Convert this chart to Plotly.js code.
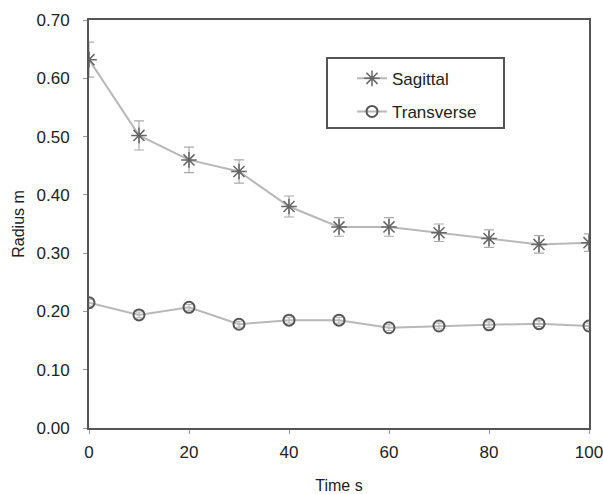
<!DOCTYPE html>
<html><head><meta charset="utf-8">
<script src="https://cdn.plot.ly/plotly-3.0.1.min.js"></script>
<style>html,body{margin:0;padding:0;background:#fff}#c{width:603px;height:494px}</style>
</head><body><div id="c"></div>
<script>
var time = [0,10,20,30,40,50,60,70,80,90,100];
var sagittal = [0.632,0.502,0.460,0.440,0.380,0.345,0.345,0.335,0.325,0.315,0.318];
var sagittalErr = [0.030,0.025,0.022,0.020,0.018,0.016,0.016,0.015,0.015,0.015,0.015];
var transverse = [0.215,0.194,0.207,0.178,0.185,0.185,0.172,0.175,0.177,0.179,0.175];
var transverseErr = [0.006,0.005,0.005,0.005,0.005,0.005,0.005,0.005,0.005,0.005,0.005];
var yTicks = [0,0.1,0.2,0.3,0.4,0.5,0.6,0.7];
var yTickText = ["0.00","0.10","0.20","0.30","0.40","0.50","0.60","0.70"];
var xTicks = [0,20,40,60,80,100];

var traces = [
 {x:time,y:sagittal,name:'Sagittal',mode:'lines+markers',legendgroup:'a',
  line:{color:'#b8b8b8',width:2},
  marker:{symbol:'asterisk-open',size:13,color:'#666',line:{color:'#666',width:1.5}},
  error_y:{type:'data',array:sagittalErr,visible:true,color:'#aaa',thickness:1.2,width:5}},
 {x:time,y:transverse,name:'Transverse',mode:'lines+markers',legendgroup:'b',
  line:{color:'#b8b8b8',width:2},
  marker:{symbol:'circle-open',size:11,color:'#555',line:{color:'#555',width:2}},
  error_y:{type:'data',array:transverseErr,visible:true,color:'#aaa',thickness:1,width:3}}
];
var layout = {
 width:603,height:494,
 margin:{l:89,r:14,t:20,b:66},
 paper_bgcolor:'#fff',plot_bgcolor:'#fff',
 font:{family:'Liberation Sans, Arial, sans-serif',color:'#222',size:17},
 showlegend:true,
 legend:{x:0.526,y:0.9,xanchor:'left',yanchor:'top',borderwidth:0,
   bgcolor:'rgba(0,0,0,0)',font:{size:17,color:'#222'},traceorder:'grouped',tracegroupgap:8},
 shapes:[{type:'rect',xref:'paper',yref:'paper',x0:0.476,x1:0.83,y0:0.735,y1:0.907,
   line:{color:'#555',width:2},fillcolor:'rgba(0,0,0,0)',layer:'below'}],
 xaxis:{range:[0,100],tickvals:xTicks,ticks:'outside',ticklen:4,tickcolor:'#999',ticklabelstandoff:4,
   ticklabeloverflow:'allow',
   showgrid:false,zeroline:false,showline:true,linecolor:'#555',linewidth:2,mirror:true,
   tickfont:{size:17,color:'#222'},
   title:{text:'Time s',font:{size:16,color:'#222'},standoff:20}},
 yaxis:{range:[0,0.7],tickvals:yTicks,ticktext:yTickText,ticks:'outside',ticklen:4,tickcolor:'#999',ticklabelstandoff:10,
   showgrid:false,zeroline:false,showline:true,linecolor:'#555',linewidth:2,mirror:true,
   tickfont:{size:17,color:'#222'},
   title:{text:'Radius m',font:{size:16,color:'#222'},standoff:8}}
};
Plotly.newPlot('c',traces,layout,{displayModeBar:false});
</script></body></html>
